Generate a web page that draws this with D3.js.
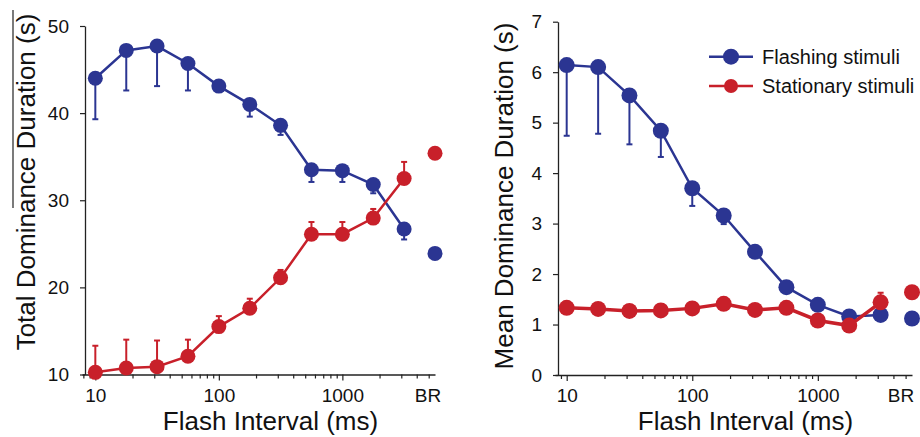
<!DOCTYPE html>
<html>
<head>
<meta charset="utf-8">
<script src="https://cdn.jsdelivr.net/npm/d3@7"></script>
<style>
  body { margin: 0; background: #fff; }
  svg { display: block; font-family: "Liberation Sans", Arial, sans-serif; }
</style>
</head>
<body>
<svg id="chart" width="920" height="437"></svg>
<script>
// flash intervals (ms), BR column sits at the far right of the log axis
var intervals = [10, 17.8, 31.6, 56.2, 100, 178, 316, 562, 1000, 1778, 3162];
var brPos = 5623;
var xTickLabels = [10, 100, 1000];

// left panel: total dominance duration (s)
var totalFlash    = [44.0, 47.2, 47.7, 45.7, 43.1, 41.0, 38.6, 33.5, 33.4, 31.8, 26.7];
var totalFlashErr = [4.7, 4.6, 4.6, 3.1, 0.5, 1.4, 1.1, 1.4, 1.3, 1.0, 1.2];
var totalStat     = [10.25, 10.75, 10.9, 12.1, 15.5, 17.6, 21.1, 26.1, 26.1, 27.95, 32.5];
var totalStatErr  = [3.05, 3.25, 3.0, 1.9, 1.2, 1.1, 0.9, 1.4, 1.4, 1.05, 1.9];
var totalBR       = [23.9, 35.4];   // flashing, stationary
var totalYTicks   = [10, 20, 30, 40, 50];

// right panel: mean dominance duration (s)
var meanFlash    = [6.14, 6.10, 5.54, 4.84, 3.70, 3.16, 2.44, 1.74, 1.39, 1.16, 1.19];
var meanFlashErr = [1.40, 1.32, 0.97, 0.52, 0.35, 0.17, 0.08, 0.07, 0.06, 0.06, 0.06];
var meanStat     = [1.33, 1.31, 1.27, 1.28, 1.32, 1.41, 1.29, 1.33, 1.08, 0.98, 1.44];
var meanStatErr  = [0.04, 0.04, 0.04, 0.04, 0.04, 0.05, 0.04, 0.04, 0.05, 0.05, 0.19];
var meanBR       = [1.12, 1.64];
var meanYTicks   = [0, 1, 2, 3, 4, 5, 6, 7];

var seriesNames = ["Flashing stimuli", "Stationary stimuli"];
var blue = "#2b3592", red = "#c8202a";

var svg = d3.select("#chart");

function drawPanel(cfg) {
    var g = svg.append("g");
    var x = d3.scaleLog().domain([cfg.xMin, brPos]).range(cfg.xRange);
    var y = d3.scaleLinear().domain(cfg.yDomain).range(cfg.yRange);
    var yAxisX = cfg.xRange[0] + 3;

    // x axis with minor log ticks
    var xa = g.append("g")
        .attr("transform", "translate(0," + cfg.yRange[0] + ")")
        .call(d3.axisBottom(x)
            .tickValues(x.ticks().filter(function (d) { return d < brPos; }))
            .tickSize(4).tickSizeOuter(0).tickPadding(10)
            .tickFormat(function (d) { return xTickLabels.indexOf(d) > -1 ? d : ""; }));
    xa.selectAll(".tick line").filter(function (d) { return xTickLabels.indexOf(d) > -1; }).attr("y2", 6);
    xa.selectAll(".tick text").attr("font-size", 19).attr("fill", "#111");
    xa.select(".domain").attr("stroke", "#222").attr("stroke-width", 1.3);
    xa.selectAll(".tick line").attr("stroke", "#222").attr("stroke-width", 1.2);
    g.append("text").text("BR")
        .attr("x", x(brPos) + cfg.brOffset).attr("y", 402)
        .attr("text-anchor", "middle").attr("font-size", 19).attr("fill", "#111");

    // y axis
    var ya = g.append("g")
        .attr("transform", "translate(" + yAxisX + ",0)")
        .call(d3.axisLeft(y).tickValues(cfg.yTicks).tickSize(5).tickSizeOuter(0).tickPadding(11)
            .tickFormat(d3.format("d")));
    ya.selectAll(".tick text").attr("font-size", 19).attr("fill", "#111");
    ya.select(".domain").attr("stroke", "#222").attr("stroke-width", 1.3);
    ya.selectAll(".tick line").attr("stroke", "#222").attr("stroke-width", 1.2);

    // axis titles
    g.append("text").text("Flash Interval (ms)")
        .attr("x", (cfg.xRange[0] + cfg.xRange[1]) / 2 + 12).attr("y", 430)
        .attr("text-anchor", "middle").attr("font-size", 26).attr("fill", "#111");
    g.append("text").text(cfg.yTitle)
        .attr("transform", "translate(" + cfg.yTitlePos[0] + "," + cfg.yTitlePos[1] + ") rotate(-90)")
        .attr("text-anchor", "middle").attr("font-size", 26).attr("fill", "#111");

    var line = d3.line()
        .x(function (d) { return x(d[0]); })
        .y(function (d) { return y(d[1]); });

    cfg.series.forEach(function (s) {
        var pts = intervals.map(function (v, i) { return [v, s.values[i], s.err[i]]; });
        // error bars (one-sided)
        var eb = g.append("g").attr("stroke", s.color).attr("stroke-width", 2);
        pts.forEach(function (p) {
            var y0 = y(p[1]), y1 = y(p[1] + s.dir * p[2]), px = x(p[0]);
            eb.append("line").attr("x1", px).attr("x2", px).attr("y1", y0).attr("y2", y1);
            eb.append("line").attr("x1", px - 3).attr("x2", px + 3).attr("y1", y1).attr("y2", y1);
        });
        g.append("path").datum(pts).attr("d", line)
            .attr("fill", "none").attr("stroke", s.color).attr("stroke-width", s.lineWidth);
        g.append("g").selectAll("circle").data(pts).join("circle")
            .attr("cx", function (d) { return x(d[0]); })
            .attr("cy", function (d) { return y(d[1]); })
            .attr("r", cfg.r).attr("fill", s.color);
        g.append("circle").attr("cx", x(brPos)).attr("cy", y(s.br)).attr("r", cfg.r).attr("fill", s.color);
    });
    return g;
}

drawPanel({
    xMin: 7.8, xRange: [82, 435], yDomain: [10, 50], yRange: [374.5, 26],
    yTicks: totalYTicks, yTitle: "Total Dominance Duration (s)", yTitlePos: [35, 182],
    brOffset: -7, r: 7.5,
    series: [
        { values: totalFlash, err: totalFlashErr, dir: -1, br: totalBR[0], color: blue, lineWidth: 2.5 },
        { values: totalStat, err: totalStatErr, dir: 1, br: totalBR[1], color: red, lineWidth: 2.5 }
    ]
});

drawPanel({
    xMin: 8.07, xRange: [555, 912], yDomain: [0, 7], yRange: [375, 21.7],
    yTicks: meanYTicks, yTitle: "Mean Dominance Duration (s)", yTitlePos: [513, 196],
    brOffset: -11, r: 8,
    series: [
        { values: meanFlash, err: meanFlashErr, dir: -1, br: meanBR[0], color: blue, lineWidth: 2.5 },
        { values: meanStat, err: meanStatErr, dir: 1, br: meanBR[1], color: red, lineWidth: 3.5 }
    ]
});

// stray rule beside the left title, as in the source figure
svg.append("line").attr("x1", 13).attr("x2", 13).attr("y1", 10).attr("y2", 208)
    .attr("stroke", "#222").attr("stroke-width", 1.2);

// legend
var legend = svg.append("g");
seriesNames.forEach(function (name, i) {
    var ly = 56.7 + i * 29.3, c = i === 0 ? blue : red;
    legend.append("line").attr("x1", 709).attr("x2", 753).attr("y1", ly).attr("y2", ly)
        .attr("stroke", c).attr("stroke-width", 2.5);
    legend.append("circle").attr("cx", 731).attr("cy", ly).attr("r", i === 0 ? 8 : 7).attr("fill", c);
    legend.append("text").text(name).attr("x", 762).attr("y", ly + 7.2)
        .attr("font-size", 20).attr("fill", "#111");
});
</script>
</body>
</html>
